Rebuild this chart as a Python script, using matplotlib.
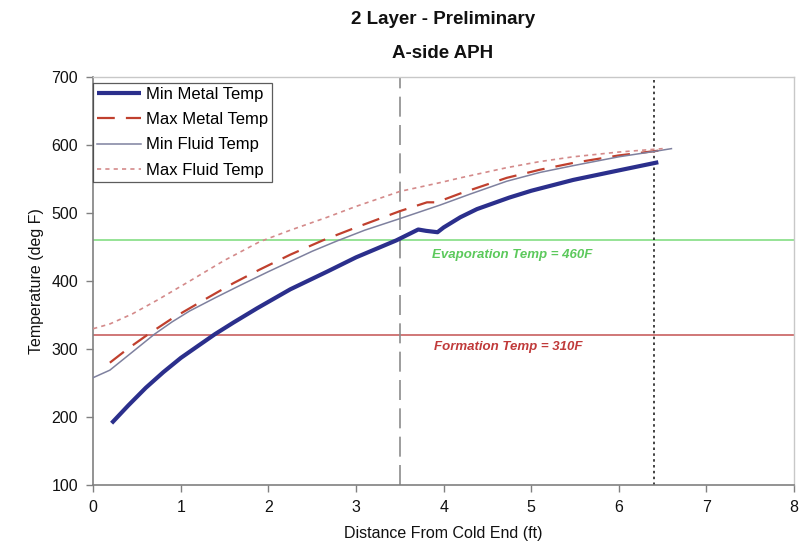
import matplotlib
matplotlib.use("Agg")
import matplotlib.pyplot as plt

plt.rcParams['font.family'] = ['Liberation Sans', 'DejaVu Sans']

# Data
min_metal_x = [0.21, 0.4, 0.6, 0.8, 1.0, 1.2, 1.39, 1.6, 1.87, 2.25, 2.67, 3.0, 3.46, 3.71, 3.80,
               3.93, 4.0, 4.19, 4.38, 4.75, 5.0, 5.48, 6.0, 6.45]
min_metal_y = [191, 217, 243, 266, 287, 305, 322, 339, 360, 388, 414, 435, 460, 476, 474,
               472, 479, 494, 506, 523, 533, 549, 563, 575]

max_metal_x = [0.19, 0.4, 0.63, 0.9, 1.3, 1.6, 1.9, 2.25, 2.62, 3.0, 3.5, 3.81, 3.92, 4.19,
               4.72, 5.1, 5.48, 6.0, 6.45]
max_metal_y = [280, 301, 322, 345, 375, 397, 417, 439, 460, 479, 503, 516, 516, 529,
               552, 564, 574, 585, 592]

min_fluid_x = [0.0, 0.19, 0.45, 0.70, 0.9, 1.1, 1.4, 1.68, 2.0, 2.25, 2.5, 2.78, 3.1, 3.5,
               3.73, 3.96, 4.3, 4.72, 5.1, 5.48, 6.0, 6.41, 6.6]
min_fluid_y = [258, 269, 296, 322, 340, 356, 376, 394, 414, 429, 444, 459, 475, 492,
               502, 512, 528, 547, 560, 570, 583, 591, 595]

max_fluid_x = [0.0, 0.19, 0.45, 0.73, 1.1, 1.49, 1.9, 2.25, 2.67, 3.0, 3.5, 3.96, 4.19,
               4.72, 5.1, 5.48, 6.0, 6.5]
max_fluid_y = [330, 337, 352, 372, 400, 430, 458, 475, 494, 510, 532, 545, 552,
               567, 576, 583, 590, 595]

evap_temp_line = 460
formation_temp_line = 321
vline_dashed = 3.5
vline_dotted = 6.4

x_ticks = [0, 1, 2, 3, 4, 5, 6, 7, 8]
y_ticks = [100, 200, 300, 400, 500, 600, 700]

fig = plt.figure(figsize=(8.07, 5.56), dpi=100)
ax = fig.add_axes([0.1155, 0.1277, 0.8685, 0.7333])

ax.axhline(evap_temp_line, color='#8ee08e', lw=1.3, zorder=1)
ax.axhline(formation_temp_line, color='#c86060', lw=1.2, zorder=1)
ax.axvline(vline_dashed, color='#8c8c8c', lw=1.2, dashes=(12, 5), zorder=1)
ax.axvline(vline_dotted, color='#222222', lw=1.2, dashes=(1.5, 2), zorder=1)

ax.plot(min_metal_x, min_metal_y, color='#2b2f8c', lw=3.0, label='Min Metal Temp', zorder=4,
        solid_capstyle='butt', solid_joinstyle='round')
ax.plot(max_metal_x, max_metal_y, color='#c0402e', lw=1.6, dashes=(8, 5), label='Max Metal Temp', zorder=3)
ax.plot(min_fluid_x, min_fluid_y, color='#7f819f', lw=1.1, label='Min Fluid Temp', zorder=3)
ax.plot(max_fluid_x, max_fluid_y, color='#d48a8a', lw=1.2, dashes=(2.5, 2.5), label='Max Fluid Temp', zorder=3)

ax.text(4.78, 439, 'Evaporation Temp = 460F', color='#5cc95c', fontsize=9.5,
        fontweight='bold', fontstyle='italic', ha='center', va='center')
ax.text(4.74, 303, 'Formation Temp = 310F', color='#c03a3a', fontsize=9.5,
        fontweight='bold', fontstyle='italic', ha='center', va='center')

ax.set_xlim(0, 8)
ax.set_ylim(100, 700)
ax.set_xticks(x_ticks)
ax.set_yticks(y_ticks)
ax.tick_params(axis='both', direction='out', length=5, width=1, colors='#808080',
               labelcolor='#111111', labelsize=11.5, pad=6)

for s in ['left', 'bottom']:
    ax.spines[s].set_color('#808080')
    ax.spines[s].set_linewidth(1.2)
for s in ['top', 'right']:
    ax.spines[s].set_color('#c8c8c8')
    ax.spines[s].set_linewidth(1.0)

ax.set_xlabel('Distance From Cold End (ft)', fontsize=11.5, color='#111111', labelpad=8)
ax.set_ylabel('Temperature (deg F)', fontsize=11.5, color='#111111', labelpad=5.5)

leg = ax.legend(loc='upper left', bbox_to_anchor=(0.0, 0.987), borderaxespad=0,
                fontsize=12, frameon=True, fancybox=False, handlelength=2.6,
                labelspacing=0.62, borderpad=0.25, handletextpad=0.3)
leg.get_frame().set_edgecolor('#333333')
leg.get_frame().set_linewidth(0.9)

fig.text(0.549, 1 - 20 / 556, '2 Layer - Preliminary', fontsize=13.5, fontweight='bold',
         ha='center', va='center', color='#111111')
fig.text(0.549, 1 - 53 / 556, 'A-side APH', fontsize=13.5, fontweight='bold',
         ha='center', va='center', color='#111111')

fig.savefig('out.png', dpi=100)
